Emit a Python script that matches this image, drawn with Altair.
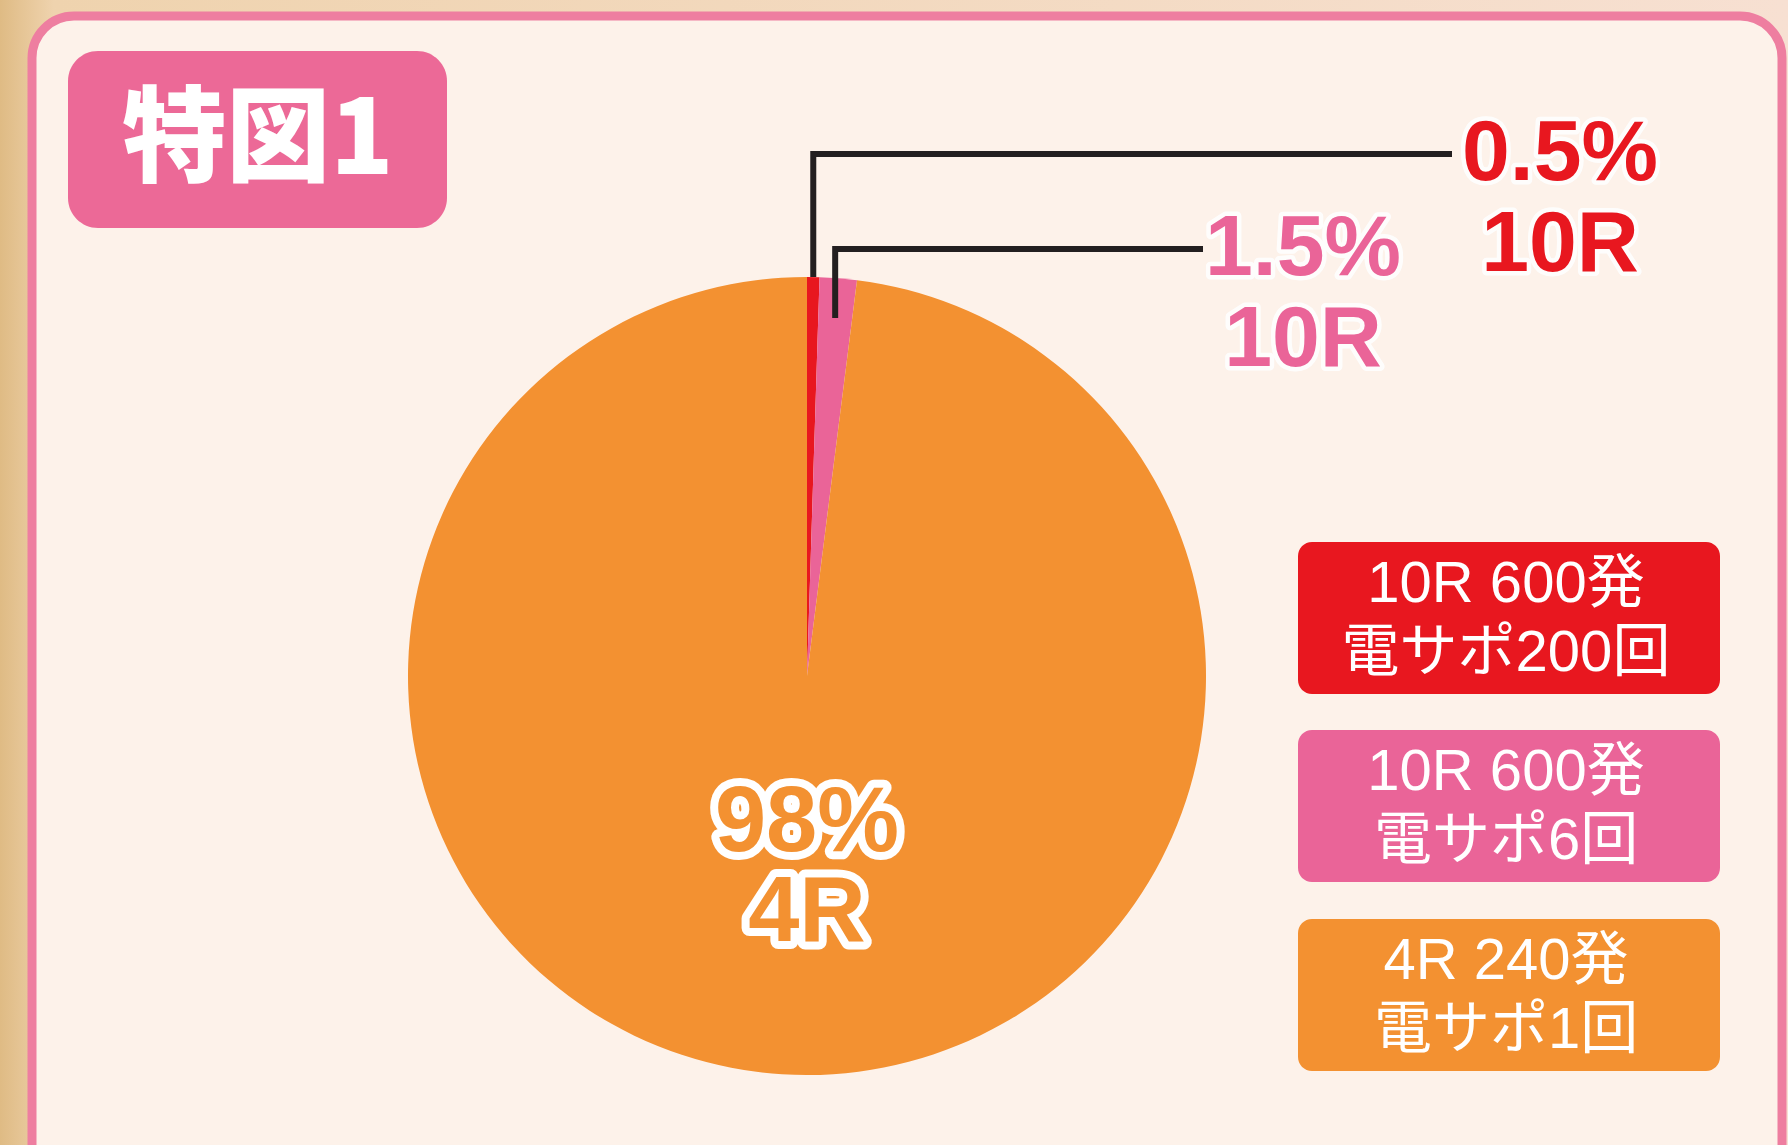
import math
import altair as alt
import pandas as pd

# ---------------- data ----------------
categories = ["10R 電サポ200回", "10R 電サポ6回", "4R 電サポ1回"]
shares = [0.5, 1.5, 98.0]
pct_labels = ["0.5%", "1.5%", "98%"]
round_labels = ["10R", "10R", "4R"]
legend_line1 = ["10R 600発", "10R 600発", "4R 240発"]
legend_line2 = ["電サポ200回", "電サポ6回", "電サポ1回"]
colors = ["#e8171f", "#ea6498", "#f39131"]
title_text = "特図1"

# ---------------- layout ----------------
W, H = 1788, 1145
CX, CY, R = 807, 676, 399
NUM_FONT = "Liberation Sans, Arial, Noto Sans CJK JP"
JP_FONT = "Noto Sans CJK JP"

xs = alt.Scale(domain=[0, W], range=[0, W], nice=False, zero=False)
ys = alt.Scale(domain=[0, H], range=[0, H], nice=False, zero=False)
cscale = alt.Scale(domain=categories, range=colors)


def X(f="x"):
    return alt.X(f + ":Q", scale=xs, axis=None)


def Y(f="y"):
    return alt.Y(f + ":Q", scale=ys, axis=None)


# background + frame
bg = alt.Chart(pd.DataFrame({"x": [0], "x2": [W], "y": [0], "y2": [H]})).mark_rect(
    color=alt.LinearGradient(
        gradient="linear", x1=0, x2=1, y1=0, y2=0,
        stops=[alt.GradientStop(color="#dfbb84", offset=0),
               alt.GradientStop(color="#efd3ae", offset=0.03),
               alt.GradientStop(color="#f7e0d2", offset=1)]),
).encode(x=X(), x2="x2:Q", y=Y(), y2="y2:Q")

frame = alt.Chart(pd.DataFrame({"x": [32], "x2": [1782], "y": [16], "y2": [1200]})).mark_rect(
    fill="#fdf2ea", stroke="#ee7ea0", strokeWidth=9, cornerRadius=42
).encode(x=X(), x2="x2:Q", y=Y(), y2="y2:Q")

badge = alt.Chart(pd.DataFrame({"x": [68], "x2": [447], "y": [51], "y2": [228]})).mark_rect(
    fill="#ec6997", cornerRadius=30
).encode(x=X(), x2="x2:Q", y=Y(), y2="y2:Q")

title = alt.Chart(pd.DataFrame({"x": [258], "y": [143], "t": [title_text]})).mark_text(
    font=JP_FONT, fontWeight=900, fontSize=104, color="white", align="center", baseline="middle"
).encode(x=X(), y=Y(), text="t:N")

# pie
pie_df = pd.DataFrame({"cat": categories, "share": shares, "idx": list(range(len(shares)))})
pie = alt.Chart(pie_df).mark_arc(radius=R, strokeWidth=0).encode(
    theta=alt.Theta("share:Q", stack=True, scale=alt.Scale(range=[0, 2 * math.pi])),
    color=alt.Color("cat:N", scale=cscale, legend=None),
    order=alt.Order("idx:Q"),
    x=alt.value(CX),
    y=alt.value(CY),
)

# leader lines (derived from slice angles)
total = sum(shares)
cum = 0.0
mids = []
for s in shares:
    a0 = cum / total * 2 * math.pi
    cum += s
    a1 = cum / total * 2 * math.pi
    mids.append((a0 + a1) / 2)

leader_r = [R * 1.0, R * 0.9]
leader_top = [154, 249]
leader_end = [1452, 1203]
rows = []
for i in range(2):
    px = CX + leader_r[i] * math.sin(mids[i])
    py = CY - leader_r[i] * math.cos(mids[i])
    rows += [
        {"cat": categories[i], "pt": 0, "x": px, "y": py},
        {"cat": categories[i], "pt": 1, "x": px, "y": leader_top[i]},
        {"cat": categories[i], "pt": 2, "x": leader_end[i], "y": leader_top[i]},
    ]
leaders = alt.Chart(pd.DataFrame(rows)).mark_line(
    color="#231f20", strokeWidth=6, strokeJoin="miter", strokeCap="butt"
).encode(x=X(), y=Y(), detail="cat:N", order="pt:Q")

# outside labels
lab_x = [1560, 1303, CX]
lab_y1 = [154, 249, 823]
lab_y2 = [245, 340, 913]
lab_rows = []
for i in range(3):
    lab_rows.append({"cat": categories[i], "x": lab_x[i], "y": lab_y1[i], "t": pct_labels[i]})
    lab_rows.append({"cat": categories[i], "x": lab_x[i], "y": lab_y2[i], "t": round_labels[i]})
lab_df = pd.DataFrame(lab_rows)
out_df = lab_df[lab_df["cat"] != categories[2]]
in_df = lab_df[lab_df["cat"] == categories[2]]

out_halo = alt.Chart(out_df).mark_text(
    font=NUM_FONT, fontWeight="bold", fontSize=86, align="center", baseline="middle",
    fill="white", stroke="white", strokeWidth=9, strokeJoin="round", opacity=0.9
).encode(x=X(), y=Y(), text="t:N")
out_text = alt.Chart(out_df).mark_text(
    font=NUM_FONT, fontWeight="bold", fontSize=86, align="center", baseline="middle"
).encode(x=X(), y=Y(), text="t:N", color=alt.Color("cat:N", scale=cscale, legend=None))

in_halo = alt.Chart(in_df).mark_text(
    font=NUM_FONT, fontWeight="bold", fontSize=92, align="center", baseline="middle",
    fill="white", stroke="white", strokeWidth=16, strokeJoin="round"
).encode(x=X(), y=Y(), text="t:N")
in_text = alt.Chart(in_df).mark_text(
    font=NUM_FONT, fontWeight="bold", fontSize=92, align="center", baseline="middle"
).encode(x=X(), y=Y(), text="t:N", color=alt.Color("cat:N", scale=cscale, legend=None))

# legend boxes
box_top = [542, 730, 919]
box_h = 152
box_df = pd.DataFrame({
    "cat": categories,
    "x": [1298] * 3, "x2": [1720] * 3,
    "y": box_top, "y2": [t + box_h for t in box_top],
})
boxes = alt.Chart(box_df).mark_rect(cornerRadius=14).encode(
    x=X(), x2="x2:Q", y=Y(), y2="y2:Q", color=alt.Color("cat:N", scale=cscale, legend=None)
)
leg_rows = []
for i in range(3):
    leg_rows.append({"x": 1506, "y": box_top[i] + 43, "t": legend_line1[i]})
    leg_rows.append({"x": 1506, "y": box_top[i] + 112, "t": legend_line2[i]})
leg_text = alt.Chart(pd.DataFrame(leg_rows)).mark_text(
    font=NUM_FONT, fontSize=58, color="white", align="center", baseline="middle"
).encode(x=X(), y=Y(), text="t:N")

chart = alt.layer(
    bg, frame, badge, title, pie, leaders, out_halo, out_text, in_halo, in_text, boxes, leg_text
).properties(
    width=W, height=H, padding=0, autosize=alt.AutoSizeParams(type="none")
).configure_view(stroke=None)

chart.save("out.html", embed_options={"renderer": "svg", "actions": False})
